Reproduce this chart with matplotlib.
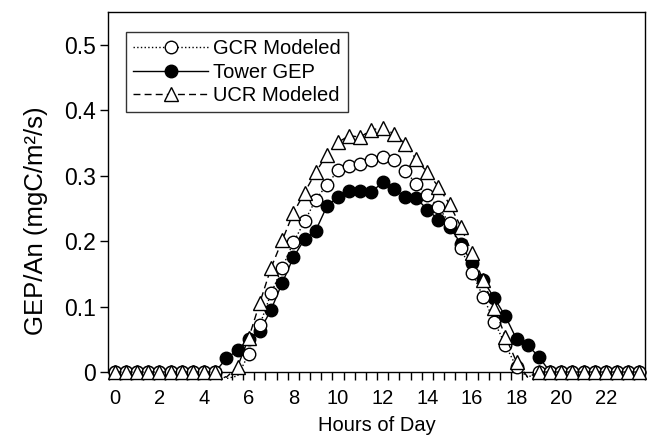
import numpy as np
import matplotlib
matplotlib.use('Agg')
import matplotlib.pyplot as plt
from matplotlib.lines import Line2D

plt.rcParams['font.family'] = ['Liberation Sans', 'DejaVu Sans']

# Horas del día (cada media hora)
hours = np.arange(0, 24, 0.5)

night_am = [0.0]*10   # 0.0 - 4.5 h
night_pm = [0.0]*9    # 19.5 - 23.5 h

# Tower GEP (5.0 - 19.0 h)
tower_day = [0.021, 0.033, 0.050, 0.063, 0.095, 0.136, 0.175, 0.203, 0.216, 0.253,
             0.268, 0.276, 0.277, 0.275, 0.290, 0.280, 0.267, 0.266, 0.248, 0.233,
             0.222, 0.196, 0.166, 0.140, 0.113, 0.085, 0.050, 0.041, 0.023]
# GCR modelado
gcr_day = [-0.010, -0.006, 0.027, 0.072, 0.120, 0.159, 0.198, 0.230, 0.263, 0.286,
           0.308, 0.315, 0.318, 0.324, 0.329, 0.324, 0.307, 0.288, 0.270, 0.252,
           0.227, 0.189, 0.152, 0.115, 0.077, 0.041, 0.007, -0.008, 0.0]
# UCR modelado
ucr_day = [-0.008, 0.008, 0.052, 0.106, 0.159, 0.201, 0.243, 0.274, 0.305, 0.332,
           0.351, 0.361, 0.359, 0.370, 0.373, 0.364, 0.349, 0.325, 0.305, 0.283,
           0.256, 0.222, 0.182, 0.140, 0.098, 0.054, 0.015, -0.008, 0.0]

tower = np.array(night_am + tower_day + night_pm)
gcr = np.array(night_am + gcr_day + night_pm)
ucr = np.array(night_am + ucr_day + night_pm)

xtick_vals = np.arange(0, 23, 2)
ytick_vals = [0, 0.1, 0.2, 0.3, 0.4, 0.5]
ytick_labels = ['0', '0.1', '0.2', '0.3', '0.4', '0.5']

fig = plt.figure(figsize=(6.48, 4.40), dpi=100)
ax = fig.add_axes([0.1667, 0.1545, 0.8287, 0.8182])

series = [
    (tower, '-', 'o', 'black', 3),
    (gcr, ':', 'o', 'white', 4),
    (ucr, (0, (5, 3)), '^', 'white', 5),
]
for y, ls, mk, fc, z in series:
    ax.plot(hours, y, linestyle=ls, color='black', lw=1.0, zorder=z, clip_on=False)
    ym = np.where(y >= 0, y, np.nan)  # los negativos no llevan marcador
    ax.plot(hours, ym, linestyle='none', marker=mk, ms=10 if mk == '^' else 9,
            mfc=fc, mec='black', mew=1.0, zorder=z, clip_on=False)

handles = [
    Line2D([], [], linestyle=':', color='black', lw=1.0, marker='o', ms=9,
           mfc='white', mec='black'),
    Line2D([], [], linestyle='-', color='black', lw=1.0, marker='o', ms=9,
           mfc='black', mec='black'),
    Line2D([], [], linestyle=(0, (5, 3)), color='black', lw=1.0, marker='^', ms=10,
           mfc='white', mec='black'),
]
leg = ax.legend(handles, ['GCR Modeled', 'Tower GEP', 'UCR Modeled'],
                loc='upper left', bbox_to_anchor=(0.034, 0.944), fontsize=14.5,
                handlelength=3.7, handletextpad=0.25, labelspacing=0.22,
                borderpad=0.35, borderaxespad=0, frameon=True, fancybox=False,
                numpoints=1)
leg.get_frame().set_edgecolor('black')
leg.get_frame().set_linewidth(1.0)

ax.set_xlim(-0.3, 23.7)
ax.set_ylim(0, 0.55)
ax.set_xticks(xtick_vals)
ax.set_xticks(np.arange(-0.25, 24, 0.5), minor=True)
ax.tick_params(axis='x', which='major', length=0, pad=12, labelsize=14.5)
ax.tick_params(axis='x', which='minor', length=6, width=1, direction='out')
ax.set_yticks(ytick_vals)
ax.set_yticklabels(ytick_labels)
ax.tick_params(axis='y', length=6, width=1, direction='out', pad=3, labelsize=16.5)

for s in ax.spines.values():
    s.set_linewidth(1.0)

ax.set_xlabel('Hours of Day', fontsize=14.5, labelpad=6)
ax.set_ylabel('GEP/An (mgC/m²/s)', fontsize=18.5)
ax.yaxis.set_label_coords(-0.112, 0.42)

fig.savefig('out.png', dpi=100)
